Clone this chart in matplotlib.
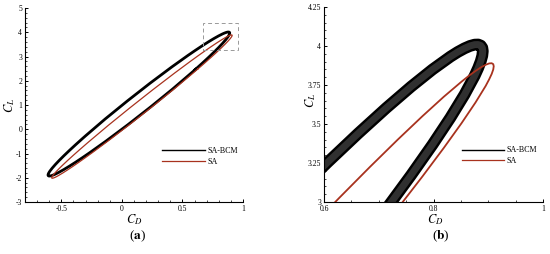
import matplotlib
matplotlib.use("Agg")
import matplotlib.pyplot as plt
from matplotlib.ticker import MultipleLocator, FuncFormatter
from matplotlib.patches import Rectangle

plt.rcParams['font.family'] = ['Liberation Serif', 'DejaVu Serif']
plt.rcParams['mathtext.fontset'] = 'stix'
plt.rcParams['axes.unicode_minus'] = False

# ---- data: SA-BCM hysteresis loop (CD, CL) ----
bcm_cd = [0.6062, 0.6625, 0.7136, 0.7590, 0.7982, 0.8308, 0.8565, 0.8751, 0.8816, 0.8863,
          0.8891, 0.8900, 0.8891, 0.8863, 0.8816, 0.8751, 0.8667, 0.8565, 0.8445, 0.8308,
          0.7982, 0.7590, 0.7136, 0.6625, 0.6062, 0.5452, 0.4118, 0.2304, 0.0434, -0.1382,
          -0.3014,
          -0.3262, -0.3825, -0.4336, -0.4790, -0.5182, -0.5508, -0.5765, -0.5951, -0.6016, -0.6063,
          -0.6091, -0.6100, -0.6091, -0.6063, -0.6016, -0.5951, -0.5867, -0.5765, -0.5645, -0.5508,
          -0.5182, -0.4790, -0.4336, -0.3825, -0.3262, -0.2652, -0.1318, 0.0496, 0.2366, 0.4182,
          0.5814, 0.6062]
bcm_cl = [2.4660, 2.7189, 2.9551, 3.1722, 3.3680, 3.5405, 3.6880, 3.8090, 3.8592, 3.9024,
          3.9384, 3.9672, 3.9886, 4.0027, 4.0094, 4.0087, 4.0005, 3.9849, 3.9620, 3.9318,
          3.8497, 3.7396, 3.6025, 3.4398, 3.2532, 3.0444, 2.5690, 1.8916, 1.1611, 0.4232,
          -0.2764,
          -0.3860, -0.6389, -0.8751, -1.0922, -1.2880, -1.4605, -1.6080, -1.7290, -1.7792, -1.8224,
          -1.8584, -1.8872, -1.9086, -1.9227, -1.9294, -1.9287, -1.9205, -1.9049, -1.8820, -1.8518,
          -1.7697, -1.6596, -1.5225, -1.3598, -1.1732, -0.9644, -0.4890, 0.1884, 0.9189, 1.6568,
          2.3564, 2.4660]

# ---- data: SA hysteresis loop (CD, CL) ----
sa_cd = [0.6281, 0.6840, 0.7348, 0.7799, 0.8188, 0.8512, 0.8767, 0.8952, 0.9016, 0.9063,
         0.9091, 0.9100, 0.9091, 0.9063, 0.9016, 0.8952, 0.8868, 0.8767, 0.8648, 0.8512,
         0.8188, 0.7799, 0.7348, 0.6840, 0.6281, 0.5675, 0.4350, 0.2548, 0.0690, -0.1113,
         -0.2734,
         -0.2981, -0.3540, -0.4048, -0.4499, -0.4888, -0.5212, -0.5467, -0.5652, -0.5716, -0.5763,
         -0.5791, -0.5800, -0.5791, -0.5763, -0.5716, -0.5652, -0.5568, -0.5467, -0.5348, -0.5212,
         -0.4888, -0.4499, -0.4048, -0.3540, -0.2981, -0.2375, -0.1050, 0.0752, 0.2610, 0.4413,
         0.6034, 0.6281]
sa_cl = [2.4916, 2.7346, 2.9596, 3.1644, 3.3469, 3.5053, 3.6380, 3.7437, 3.7861, 3.8213,
         3.8494, 3.8701, 3.8836, 3.8896, 3.8883, 3.8796, 3.8635, 3.8401, 3.8095, 3.7716,
         3.6748, 3.5506, 3.4003, 3.2253, 3.0274, 2.8087, 2.3173, 1.6282, 0.8960, 0.1662,
         -0.5158,
         -0.6216, -0.8646, -1.0896, -1.2944, -1.4769, -1.6353, -1.7680, -1.8737, -1.9161, -1.9513,
         -1.9794, -2.0001, -2.0136, -2.0196, -2.0183, -2.0096, -1.9935, -1.9701, -1.9395, -1.9016,
         -1.8048, -1.6806, -1.5303, -1.3553, -1.1574, -0.9387, -0.4473, 0.2418, 0.9740, 1.7038,
         2.3858, 2.4916]

labels = ["SA-BCM", "SA"]
zoom_box = [0.67, 3.27, 0.96, 4.37]  # x0, y0, x1, y1 of zoom region in (a)

BLACK = "#000000"
RED = "#a8321e"

fig = plt.figure(figsize=(5.5, 2.54), dpi=100)
axa = fig.add_axes([0.0455, 0.2047, 0.3964, 0.7638])
axb = fig.add_axes([0.5891, 0.2047, 0.3982, 0.7677])

fmt = FuncFormatter(lambda v, p: "%g" % v)

def style(ax):
    for s in ("top", "right"):
        ax.spines[s].set_visible(False)
    for s in ("left", "bottom"):
        ax.spines[s].set_linewidth(0.8)
    ax.tick_params(which="major", direction="in", length=2.5, width=0.7, labelsize=5.5, pad=2)
    ax.tick_params(which="minor", direction="in", length=1.3, width=0.5)
    ax.xaxis.set_major_formatter(fmt)
    ax.yaxis.set_major_formatter(fmt)

legend_kw = dict(loc="upper left", frameon=False, fontsize=5.8, handlelength=5.3,
                 handletextpad=0.3, labelspacing=0.35, borderpad=0, borderaxespad=0)

# ---- panel (a) ----
axa.plot(bcm_cd, bcm_cl, color=BLACK, lw=2.0, solid_joinstyle="round", zorder=2)
axa.plot(sa_cd, sa_cl, color=RED, lw=0.9, solid_joinstyle="round", zorder=3)
ha1, = axa.plot([], [], color=BLACK, lw=1.0, label=labels[0])
ha2, = axa.plot([], [], color=RED, lw=0.9, label=labels[1])
axa.set_xlim(-0.8, 1.0)
axa.set_ylim(-3, 5)
axa.xaxis.set_major_locator(MultipleLocator(0.5))
axa.xaxis.set_minor_locator(MultipleLocator(0.1))
axa.yaxis.set_major_locator(MultipleLocator(1))
axa.yaxis.set_minor_locator(MultipleLocator(0.2))
style(axa)
axa.add_patch(Rectangle((zoom_box[0], zoom_box[1]), zoom_box[2] - zoom_box[0], zoom_box[3] - zoom_box[1],
                        fill=False, ec="#999999", lw=0.7, ls=(0, (4, 3)), zorder=4))
axa.set_xlabel(r"$C_D$", fontsize=9)
axa.set_ylabel(r"$C_L$", fontsize=9)
axa.xaxis.set_label_coords(0.5, -0.05)
axa.yaxis.set_label_coords(-0.035, 0.5)
axa.legend(handles=[ha1, ha2], bbox_to_anchor=(0.628, 0.285), **legend_kw)

# ---- panel (b) ----
axb.plot(bcm_cd, bcm_cl, color=BLACK, lw=8.5, solid_joinstyle="round", solid_capstyle="round", zorder=2)
axb.plot(bcm_cd, bcm_cl, color="#303030", lw=5.0, solid_joinstyle="round", zorder=2.5)
axb.plot(sa_cd, sa_cl, color=RED, lw=1.3, solid_joinstyle="round", zorder=3)
hb1, = axb.plot([], [], color=BLACK, lw=1.0, label=labels[0])
hb2, = axb.plot([], [], color=RED, lw=0.9, label=labels[1])
axb.set_xlim(0.6, 1.0)
axb.set_ylim(3, 4.25)
axb.xaxis.set_major_locator(MultipleLocator(0.2))
axb.xaxis.set_minor_locator(MultipleLocator(0.05))
axb.yaxis.set_major_locator(MultipleLocator(0.25))
axb.yaxis.set_minor_locator(MultipleLocator(0.05))
style(axb)
axb.set_xlabel(r"$C_D$", fontsize=9)
axb.set_ylabel(r"$C_L$", fontsize=9)
axb.xaxis.set_label_coords(0.507, -0.05)
axb.yaxis.set_label_coords(-0.028, 0.52)
axb.legend(handles=[hb1, hb2], bbox_to_anchor=(0.629, 0.285), **legend_kw)

fig.text(137 / 550, 1 - 236 / 254, r"(" + r"$\mathbf{a}$" + ")", ha="center", va="center", fontsize=9.5)
fig.text(441 / 550, 1 - 236 / 254, r"(" + r"$\mathbf{b}$" + ")", ha="center", va="center", fontsize=9.5)

fig.savefig("out.png", dpi=100)
